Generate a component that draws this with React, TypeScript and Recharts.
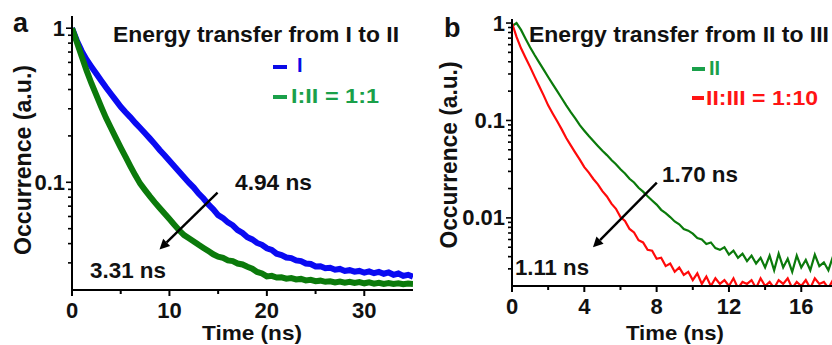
import React from 'react';
import { LineChart, Line, XAxis, YAxis, ReferenceLine } from 'recharts';

// ---------- Panel a data (time in ns, normalized occurrence) ----------
const TIME_A = [
  0, 0.5, 1, 1.5, 2, 2.5, 3, 3.5, 4, 4.5,
  5, 5.5, 6, 6.5, 7, 7.5, 8, 8.5, 9, 9.5,
  10, 10.5, 11, 11.5, 12, 12.5, 13, 13.5, 14, 14.5,
  15, 15.5, 16, 16.5, 17, 17.5, 18, 18.5, 19, 19.5,
  20, 20.5, 21, 21.5, 22, 22.5, 23, 23.5, 24, 24.5,
  25, 25.5, 26, 26.5, 27, 27.5, 28, 28.5, 29, 29.5,
  30, 30.5, 31, 31.5, 32, 32.5, 33, 33.5, 34, 34.5,
  35,
];
const DECAY_I = [
  1.0, 0.83, 0.71, 0.625, 0.561, 0.506, 0.456, 0.412, 0.374, 0.34,
  0.309, 0.285, 0.264, 0.243, 0.225, 0.208, 0.192, 0.177, 0.162, 0.15,
  0.138, 0.127, 0.117, 0.108, 0.0995, 0.0925, 0.0845, 0.0785, 0.0718, 0.0668,
  0.0612, 0.0586, 0.0549, 0.0526, 0.049, 0.0469, 0.044, 0.0426, 0.0404, 0.0393,
  0.0373, 0.0364, 0.0344, 0.0337, 0.0325, 0.0322, 0.0311, 0.0308, 0.0297, 0.0295,
  0.0284, 0.0285, 0.0277, 0.0279, 0.0271, 0.0274, 0.0266, 0.0269, 0.0263, 0.0266,
  0.0259, 0.0264, 0.0257, 0.0262, 0.0255, 0.026, 0.0251, 0.0256, 0.0247, 0.0251,
  0.0244,
];
const DECAY_I_II = [
  1.0, 0.81, 0.656, 0.53, 0.438, 0.368, 0.309, 0.261, 0.225, 0.194,
  0.168, 0.146, 0.127, 0.111, 0.098, 0.089, 0.081, 0.0741, 0.0681, 0.0627,
  0.0577, 0.0531, 0.0488, 0.0454, 0.0433, 0.0413, 0.0393, 0.0375, 0.0358, 0.0341,
  0.0329, 0.0323, 0.0311, 0.0308, 0.0297, 0.0293, 0.0283, 0.0275, 0.0262, 0.0256,
  0.0245, 0.0247, 0.0241, 0.0242, 0.0237, 0.0239, 0.0234, 0.0236, 0.0231, 0.0233,
  0.0228, 0.023, 0.0226, 0.0228, 0.0224, 0.0227, 0.0223, 0.0226, 0.0222, 0.0225,
  0.0221, 0.0224, 0.022, 0.0223, 0.0219, 0.0222, 0.0219, 0.0221, 0.0218, 0.022,
  0.0219,
];

// ---------- Panel b data ----------
const TIME_B = [
  0, 0.25, 0.5, 0.75, 1, 1.25, 1.5, 1.75,
  2, 2.25, 2.5, 2.75, 3, 3.25, 3.5, 3.75,
  4, 4.25, 4.5, 4.75, 5, 5.25, 5.5, 5.75,
  6, 6.25, 6.5, 6.75, 7, 7.25, 7.5, 7.75,
  8, 8.25, 8.5, 8.75, 9, 9.25, 9.5, 9.75,
  10, 10.25, 10.5, 10.75, 11, 11.25, 11.5, 11.75,
  12, 12.25, 12.5, 12.75, 13, 13.25, 13.5, 13.75,
  14, 14.25, 14.5, 14.75, 15, 15.25, 15.5, 15.75,
  16, 16.25, 16.5, 16.75, 17, 17.25, 17.5, 17.75,
];
const DECAY_II = [
  0.93, 1.0, 0.85, 0.69, 0.565, 0.47, 0.395, 0.332,
  0.279, 0.236, 0.2, 0.169, 0.143, 0.122, 0.105, 0.0895,
  0.0785, 0.0692, 0.0615, 0.0548, 0.0489, 0.0441, 0.0393, 0.0356,
  0.0315, 0.0286, 0.0252, 0.0231, 0.0204, 0.0186, 0.0167, 0.0151,
  0.0137, 0.0121, 0.0112, 0.0102, 0.0092, 0.0086, 0.0077, 0.0074,
  0.0069, 0.0062, 0.006, 0.0054, 0.0056, 0.0049, 0.0047, 0.005,
  0.0042, 0.0046, 0.0039, 0.0043, 0.0036, 0.0041, 0.0034, 0.0039,
  0.0031, 0.0041, 0.0029, 0.0043, 0.0031, 0.0038, 0.0028, 0.0041,
  0.0031, 0.0037, 0.0029, 0.0042, 0.0032, 0.0035, 0.0029, 0.004,
];
const DECAY_II_III = [
  1.0, 0.72, 0.55, 0.44, 0.355, 0.282, 0.226, 0.181,
  0.143, 0.118, 0.098, 0.081, 0.066, 0.0555, 0.0468, 0.0396,
  0.0332, 0.0292, 0.0251, 0.0221, 0.0188, 0.0166, 0.014, 0.0124,
  0.0102, 0.0093, 0.0077, 0.0071, 0.0059, 0.0056, 0.0047, 0.0046,
  0.0038, 0.0039, 0.0032, 0.0034, 0.0028, 0.0031, 0.0026, 0.0028,
  0.0023, 0.0027, 0.0021, 0.0025, 0.002, 0.0024, 0.0021, 0.0023,
  0.002, 0.0024, 0.0019, 0.0022, 0.0021, 0.0023, 0.0019, 0.0024,
  0.002, 0.0022, 0.0019, 0.0023, 0.0021, 0.0024, 0.0019, 0.0022,
  0.002, 0.0023, 0.0019, 0.0024, 0.0021, 0.0022, 0.0019, 0.0023,
];

// ---------- Axes ----------
const X_DOMAIN_A = [0, 35];
const X_TICKS_A = [0, 5, 10, 15, 20, 25, 30];
const X_LABELS_A = [0, 10, 20, 30];
const Y_DOMAIN_A = [0.02, 1.2];
const Y_TICKS_A = [0.03, 0.04, 0.05, 0.06, 0.07, 0.08, 0.09, 0.1, 0.2, 0.3, 0.4, 0.5, 0.6, 0.7, 0.8, 0.9, 1];
const Y_LABELS_A = [0.1, 1];

const X_DOMAIN_B = [0, 17.7];
const X_TICKS_B = [0, 2, 4, 6, 8, 10, 12, 14, 16];
const X_LABELS_B = [0, 4, 8, 12, 16];
const Y_DOMAIN_B = [0.002, 1.1];
const Y_TICKS_B = [
  0.003, 0.004, 0.005, 0.006, 0.007, 0.008, 0.009, 0.01,
  0.02, 0.03, 0.04, 0.05, 0.06, 0.07, 0.08, 0.09, 0.1,
  0.2, 0.3, 0.4, 0.5, 0.6, 0.7, 0.8, 0.9, 1,
];
const Y_LABELS_B = [0.01, 0.1, 1];

// arrows (data coordinates): [start, end]
const ARROW_A = [{ x: 14.94, y: 0.0857 }, { x: 8.98, y: 0.0367 }];
const ARROW_B = [{ x: 8.01, y: 0.023 }, { x: 4.48, y: 0.005 }];

const dataA = TIME_A.map((t, i) => ({ t, I: DECAY_I[i], I_II: DECAY_I_II[i] }));
const dataB = TIME_B.map((t, i) => ({ t, II: DECAY_II[i], II_III: DECAY_II_III[i] }));

const FONT = "'Liberation Sans', Arial, sans-serif";
const BLUE = '#0a0af2';
const GREEN = '#0b7a0b';
const RED = '#ff0a0a';
const LEG_BLUE = '#0a0ae6';
const LEG_GREEN = '#1aa04a';
const LEG_RED = '#ff1414';
const INK = '#111';

const fmt = (v: number) => String(v);

const makeXTick = (labels: number[]) => (props: any) => {
  const { x, y, payload } = props;
  const major = labels.includes(payload.value);
  return (
    <g>
      <line x1={x} y1={y} x2={x} y2={y + (major ? 6 : 4)} stroke="#000" strokeWidth={2} />
      {major && (
        <text x={x} y={y + 28} textAnchor="middle" fontFamily={FONT} fontWeight={700} fontSize={22} fill={INK}>
          {fmt(payload.value)}
        </text>
      )}
    </g>
  );
};

const makeYTick = (labels: number[]) => (props: any) => {
  const { x, y, payload } = props;
  const major = labels.includes(payload.value);
  return (
    <g>
      <line x1={x} y1={y} x2={x - (major ? 6 : 4)} y2={y} stroke="#000" strokeWidth={1.6} />
      {major && (
        <text x={x - 7} y={y + 7.5} textAnchor="end" fontFamily={FONT} fontWeight={700} fontSize={22} fill={INK}>
          {fmt(payload.value)}
        </text>
      )}
    </g>
  );
};

const ArrowShape = (p: any) => {
  const { x1, y1, x2, y2 } = p;
  const dx = x2 - x1;
  const dy = y2 - y1;
  const len = Math.hypot(dx, dy) || 1;
  const ux = dx / len;
  const uy = dy / len;
  const hl = 10;
  const hw = 5;
  const bx = x2 - ux * hl;
  const by = y2 - uy * hl;
  return (
    <g>
      <line x1={x1} y1={y1} x2={bx} y2={by} stroke="#000" strokeWidth={2.4} />
      <polygon
        points={`${x2},${y2} ${bx - uy * hw},${by + ux * hw} ${bx + uy * hw},${by - ux * hw}`}
        fill="#000"
      />
    </g>
  );
};

const axisLine = { stroke: '#000', strokeWidth: 2 };

const T = (p: any) => (
  <text fontFamily={FONT} fontWeight={700} fill={INK} {...p} />
);

export default function App() {
  return (
    <div style={{ position: 'absolute', left: 0, top: 0, width: 832, height: 345, background: '#fff', overflow: 'hidden' }}>
      <div style={{ position: 'absolute', left: 0, top: 0 }}>
        <LineChart width={416} height={345} data={dataA} margin={{ top: 16, right: 3, bottom: 0, left: 32 }}>
          <XAxis
            dataKey="t"
            type="number"
            domain={X_DOMAIN_A}
            ticks={X_TICKS_A}
            allowDataOverflow
            height={55}
            tickSize={0}
            tickMargin={0}
            tickLine={false}
            axisLine={axisLine}
            tick={makeXTick(X_LABELS_A)}
            interval={0}
          />
          <XAxis xAxisId="top" orientation="top" dataKey="t" type="number" domain={X_DOMAIN_A} height={0} tick={false} tickLine={false} axisLine={axisLine} />
          <YAxis
            type="number"
            scale="log"
            domain={Y_DOMAIN_A}
            ticks={Y_TICKS_A}
            allowDataOverflow
            width={40}
            tickSize={0}
            tickMargin={0}
            tickLine={false}
            axisLine={axisLine}
            tick={makeYTick(Y_LABELS_A)}
            interval={0}
          />
          <YAxis yAxisId="right" orientation="right" type="number" domain={[0, 1]} width={0} tick={false} tickLine={false} axisLine={axisLine} />
          <Line dataKey="I" stroke={BLUE} strokeWidth={6} dot={false} isAnimationActive={false} />
          <Line dataKey="I_II" stroke={GREEN} strokeWidth={6} dot={false} isAnimationActive={false} />
          <ReferenceLine segment={ARROW_A} shape={ArrowShape} ifOverflow="visible" />
        </LineChart>
      </div>
      <div style={{ position: 'absolute', left: 416, top: 0 }}>
        <LineChart width={416} height={345} data={dataB} margin={{ top: 19, right: 0, bottom: 0, left: 56 }}>
          <XAxis
            dataKey="t"
            type="number"
            domain={X_DOMAIN_B}
            ticks={X_TICKS_B}
            allowDataOverflow
            height={59}
            tickSize={0}
            tickMargin={0}
            tickLine={false}
            axisLine={axisLine}
            tick={makeXTick(X_LABELS_B)}
            interval={0}
          />
          <XAxis xAxisId="top" orientation="top" dataKey="t" type="number" domain={X_DOMAIN_B} height={0} tick={false} tickLine={false} axisLine={axisLine} />
          <YAxis
            type="number"
            scale="log"
            domain={Y_DOMAIN_B}
            ticks={Y_TICKS_B}
            allowDataOverflow
            width={40}
            tickSize={0}
            tickMargin={0}
            tickLine={false}
            axisLine={axisLine}
            tick={makeYTick(Y_LABELS_B)}
            interval={0}
          />
          <Line dataKey="II" stroke={GREEN} strokeWidth={2.2} dot={false} isAnimationActive={false} />
          <Line dataKey="II_III" stroke={RED} strokeWidth={2.2} dot={false} isAnimationActive={false} />
          <ReferenceLine segment={ARROW_B} shape={ArrowShape} ifOverflow="visible" />
        </LineChart>
      </div>
      <svg width={832} height={345} style={{ position: 'absolute', left: 0, top: 0, pointerEvents: 'none' }}>
        {/* panel letters */}
        <T x={13} y={32} fontSize={27}>a</T>
        <T x={444} y={37} fontSize={27}>b</T>
        {/* titles */}
        <T x={113} y={42} fontSize={22} textLength={286} lengthAdjust="spacingAndGlyphs">Energy transfer from I to II</T>
        <T x={529} y={42} fontSize={22} textLength={300} lengthAdjust="spacingAndGlyphs">Energy transfer from II to III</T>
        {/* legend a */}
        <rect x={273} y={65} width={14} height={4} fill={LEG_BLUE} />
        <T x={297} y={72} fontSize={20} fill={LEG_BLUE}>I</T>
        <rect x={273} y={95} width={14} height={4} fill={LEG_GREEN} />
        <T x={291} y={103} fontSize={20} fill={LEG_GREEN} textLength={88} lengthAdjust="spacingAndGlyphs">I:II = 1:1</T>
        {/* legend b */}
        <rect x={692} y={67} width={13} height={4} fill={LEG_GREEN} />
        <T x={709} y={75} fontSize={20} fill={LEG_GREEN}>II</T>
        <rect x={692} y={96} width={12} height={4} fill={LEG_RED} />
        <T x={706} y={105} fontSize={20} fill={LEG_RED} textLength={112} lengthAdjust="spacingAndGlyphs">II:III = 1:10</T>
        {/* annotations */}
        <T x={235} y={190} fontSize={22} textLength={77} lengthAdjust="spacingAndGlyphs">4.94 ns</T>
        <T x={90} y={278} fontSize={22} textLength={76} lengthAdjust="spacingAndGlyphs">3.31 ns</T>
        <T x={662} y={182} fontSize={22} textLength={76} lengthAdjust="spacingAndGlyphs">1.70 ns</T>
        <T x={515} y={275} fontSize={22} textLength={74} lengthAdjust="spacingAndGlyphs">1.11 ns</T>
        {/* axis titles */}
        <T x={252} y={340} fontSize={21} textAnchor="middle" textLength={100} lengthAdjust="spacingAndGlyphs">Time (ns)</T>
        <T x={675} y={340} fontSize={21} textAnchor="middle" textLength={98} lengthAdjust="spacingAndGlyphs">Time (ns)</T>
        <T x={31} y={160} fontSize={23} textAnchor="middle" transform="rotate(-90 31 160)" textLength={190} lengthAdjust="spacingAndGlyphs">Occurrence (a.u.)</T>
        <T x={457} y={155} fontSize={23} textAnchor="middle" transform="rotate(-90 457 155)" textLength={187} lengthAdjust="spacingAndGlyphs">Occurrence (a.u.)</T>
      </svg>
    </div>
  );
}
